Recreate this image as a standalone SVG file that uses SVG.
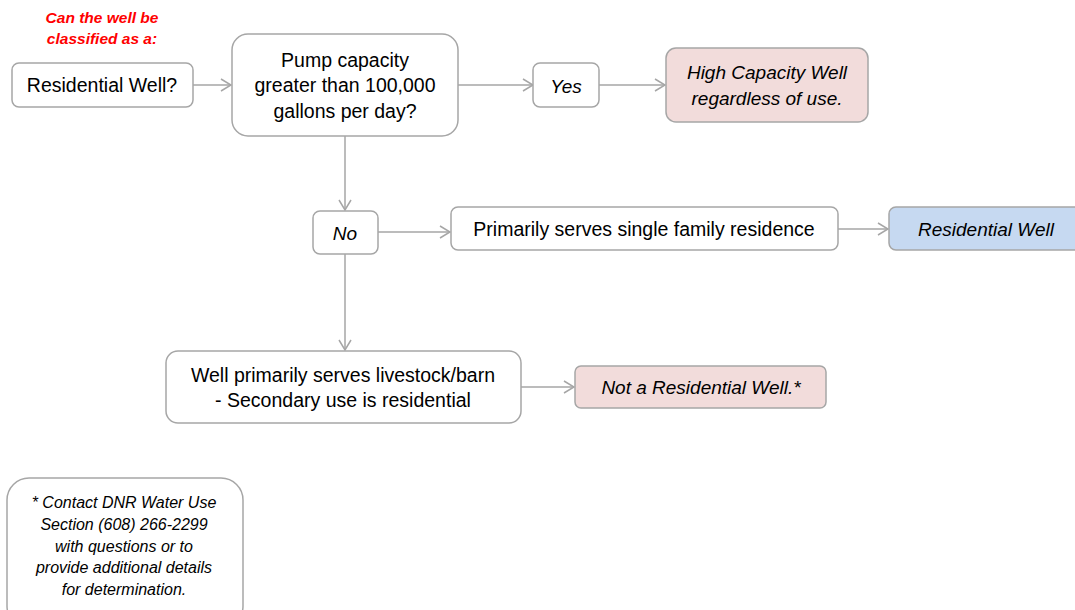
<svg xmlns="http://www.w3.org/2000/svg" width="1075" height="610" viewBox="0 0 1075 610">
<style>
.box{fill:#FFFFFF;stroke:#A6A6A6;stroke-width:1.5}
.pink{fill:#F2DCDB;stroke:#A6A6A6;stroke-width:1.5}
.blue{fill:#C6D9F1;stroke:#A6A6A6;stroke-width:1.5}
.t{font-family:"Liberation Sans",Arial,sans-serif;font-size:19.5px;fill:#000;text-anchor:middle;dominant-baseline:central}
.i{font-style:italic;font-size:19px}
.red{font-family:"Liberation Sans",Arial,sans-serif;font-size:15.5px;font-weight:bold;font-style:italic;fill:#FF0000;text-anchor:middle;dominant-baseline:central}
.fn{font-family:"Liberation Sans",Arial,sans-serif;font-size:16px;font-style:italic;fill:#000;text-anchor:middle;dominant-baseline:central}
.c{stroke:#A6A6A6;stroke-width:1.5;fill:none}
</style>
<defs>
<marker id="arr" viewBox="0 0 12 14" refX="11" refY="7" markerWidth="12" markerHeight="14" markerUnits="userSpaceOnUse" orient="auto">
<path d="M1,1 L11,7 L1,13" fill="none" stroke="#A6A6A6" stroke-width="1.5"/>
</marker>
</defs>
<rect width="1075" height="610" fill="#FFFFFF"/>
<g id="heading">
<text class="red" x="102" y="17">Can the well be</text>
<text class="red" x="102" y="38">classified as a:</text>
</g>
<g id="connectors">
<line class="c" x1="193" y1="85" x2="231" y2="85" marker-end="url(#arr)"/>
<line class="c" x1="458" y1="85" x2="533" y2="85" marker-end="url(#arr)"/>
<line class="c" x1="599" y1="85" x2="665" y2="85" marker-end="url(#arr)"/>
<line class="c" x1="345" y1="136" x2="345" y2="210" marker-end="url(#arr)"/>
<line class="c" x1="378" y1="232" x2="450" y2="232" marker-end="url(#arr)"/>
<line class="c" x1="838" y1="229" x2="888" y2="229" marker-end="url(#arr)"/>
<line class="c" x1="345" y1="254" x2="345" y2="350" marker-end="url(#arr)"/>
<line class="c" x1="521" y1="387" x2="574" y2="387" marker-end="url(#arr)"/>
</g>
<g id="residential-q">
<rect class="box" x="12" y="63" width="181" height="44" rx="7"/>
<text class="t" x="102" y="85">Residential Well?</text>
</g>
<g id="pump">
<rect class="box" x="232" y="34" width="226" height="102" rx="16"/>
<text class="t" x="345" y="60">Pump capacity</text>
<text class="t" x="345" y="85">greater than 100,000</text>
<text class="t" x="345" y="111">gallons per day?</text>
</g>
<g id="yes">
<rect class="box" x="533" y="63" width="66" height="44" rx="7"/>
<text class="t i" x="566" y="86">Yes</text>
</g>
<g id="high-capacity">
<rect class="pink" x="666" y="48" width="202" height="74" rx="10"/>
<text class="t i" x="767" y="72">High Capacity Well</text>
<text class="t i" x="767" y="98">regardless of use.</text>
</g>
<g id="no">
<rect class="box" x="313" y="211" width="65" height="43" rx="7"/>
<text class="t i" x="345" y="233">No</text>
</g>
<g id="single-family">
<rect class="box" x="451" y="207" width="387" height="43" rx="7"/>
<text class="t" x="644" y="229">Primarily serves single family residence</text>
</g>
<g id="residential-well">
<rect class="blue" x="889" y="207" width="195" height="43" rx="7"/>
<text class="t i" x="986" y="229">Residential Well</text>
</g>
<g id="livestock">
<rect class="box" x="166" y="351" width="355" height="72" rx="12"/>
<text class="t" x="343" y="375">Well primarily serves livestock/barn</text>
<text class="t" x="343" y="400">- Secondary use is residential</text>
</g>
<g id="not-residential">
<rect class="pink" x="575" y="366" width="251" height="42" rx="6"/>
<text class="t i" x="701" y="387">Not a Residential Well.*</text>
</g>
<g id="footnote">
<rect class="box" x="7" y="478" width="236" height="150" rx="22"/>
<text class="fn" x="124" y="502">* Contact DNR Water Use</text>
<text class="fn" x="124" y="524">Section (608) 266-2299</text>
<text class="fn" x="124" y="546">with questions or to</text>
<text class="fn" x="124" y="567">provide additional details</text>
<text class="fn" x="124" y="589">for determination.</text>
</g>
</svg>
